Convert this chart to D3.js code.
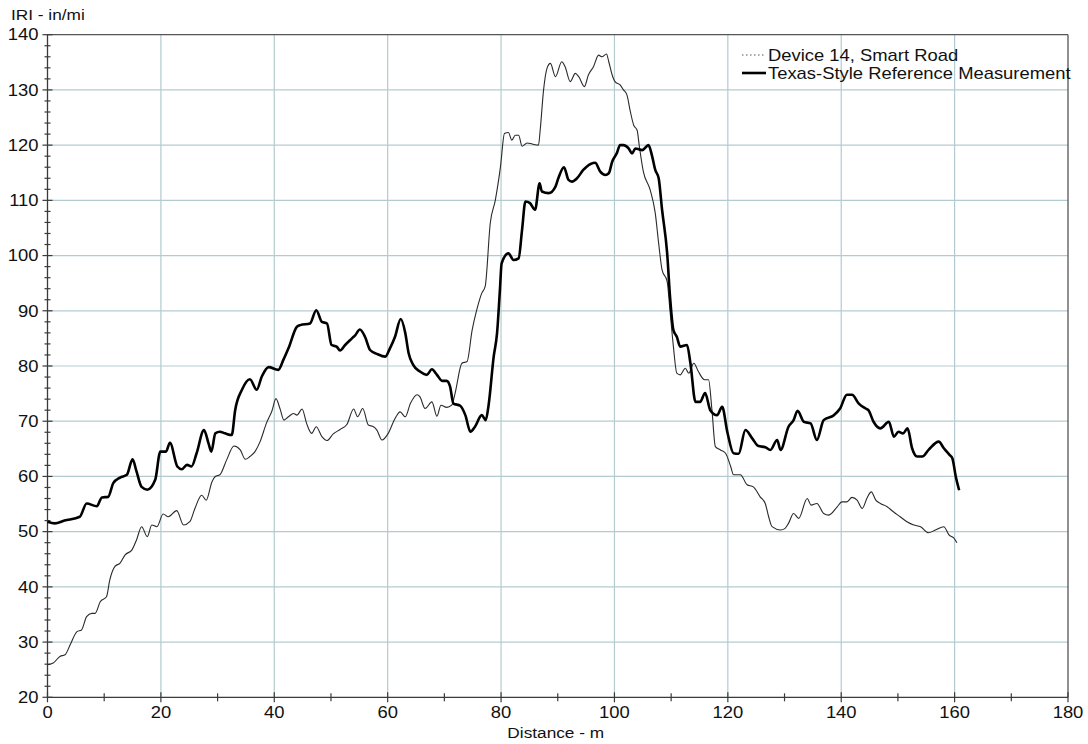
<!DOCTYPE html>
<html>
<head>
<meta charset="utf-8">
<script src="https://cdn.jsdelivr.net/npm/d3@7"></script>
<style>
  html, body { margin: 0; padding: 0; background: #fff; }
  svg { display: block; font-family: Arial, "Liberation Sans", sans-serif; }
</style>
</head>
<body>
<svg id="chart" width="1088" height="744"></svg>
<script>
// Axis tick values
const xTicks = [0, 20, 40, 60, 80, 100, 120, 140, 160, 180];
const yTicks = [20, 30, 40, 50, 60, 70, 80, 90, 100, 110, 120, 130, 140];

// Series names
const seriesNames = ["Device 14, Smart Road", "Texas-Style Reference Measurement"];

// Device 14 profile: distance (m) and IRI (in/mi)
const devDist = [0, 1, 2.2, 3.1, 4, 5.2, 6, 6.9, 7.8, 8.4, 9.3, 10.4, 11, 11.9, 12.8, 13.7, 14.9, 15.7, 16.6, 17.6,
  18.4, 19.3, 20.4, 21.3, 22.8, 24, 25.1, 26, 27.2, 28, 29, 29.6, 30.4, 31.6, 32.9, 34, 34.9, 35.7, 36.6, 37.5,
  38.6, 39.6, 40.3, 41, 41.7, 42.5, 43.4, 44, 44.9, 45.7, 46.6, 47.4, 48.4, 49.3, 50.4, 51.6, 52.8, 54, 54.7, 55.6,
  56.6, 57.5, 58.1, 59, 60.1, 61.3, 62.2, 63.1, 64, 65.2, 65.7, 66.6, 67.8, 68.7, 69.4, 70.4, 71.3, 71.9, 73.1, 74,
  74.9, 75.7, 76.6, 77.2, 78.1, 79, 79.9, 80.6, 81.3, 81.9, 82.5, 83.1, 83.7, 84.6, 85.5, 86.6, 86.9, 87.5, 88.1, 88.7,
  89.6, 90.7, 91.3, 92.2, 93.1, 93.7, 94.7, 95.4, 96.3, 97.2, 97.8, 98.6, 99, 99.6, 100.1, 101, 101.6, 102.2, 102.8, 103.4,
  104, 104.4, 105.1, 106.3, 107.2, 107.8, 108.4, 109.3, 109.8, 110.4, 111, 111.6, 112.5, 113.1, 114, 114.8, 115.9, 116.6, 117.2, 117.8,
  118.7, 119.6, 120.5, 121, 122.2, 123.4, 124.5, 125.7, 126.6, 127.2, 127.8, 129.3, 130.1, 130.7, 131.6, 132.5, 134, 134.7, 135.7, 136.9,
  137.8, 139.3, 140.1, 141, 141.9, 142.8, 143.7, 144.6, 145.3, 146.1, 146.9, 148.1, 149.2, 150.4, 151.6, 152.8, 154, 155.4, 156.6, 158.1,
  159, 159.9, 160.4];
const devIRI = [25.9, 26.2, 27.4, 27.7, 29.5, 31.9, 32.2, 34.6, 35.2, 35.2, 37.3, 38.2, 41.3, 43.7, 44.3, 45.8, 46.7, 48.5, 50.9, 49.1,
  51.2, 50.9, 53.2, 52.7, 53.8, 51.2, 51.8, 54.2, 56.6, 55.7, 59, 60, 60.3, 63, 65.5, 64.8, 63.1, 63.6, 64.5, 66.3,
  69.6, 71.9, 74.1, 72.3, 70.2, 70.8, 71.4, 71.1, 72.2, 69.6, 67.8, 69, 67.2, 66.5, 67.7, 68.5, 69.4, 72.2, 70.8, 72.3,
  69.3, 69, 68.4, 66.6, 67.8, 70.5, 71.7, 70.8, 73.2, 74.8, 74.4, 72.3, 73.5, 70.9, 72.9, 72.5, 72.9, 75.1, 80.5, 80.8,
  86.5, 90.1, 93.2, 94.4, 105.9, 110.1, 116.1, 122.1, 122.3, 120.9, 121.8, 121.8, 119.8, 120.4, 120.2, 120, 122.7, 130, 133.9, 134.8,
  132.4, 135.1, 134.2, 131.5, 133, 132.4, 130.6, 132.7, 134.2, 136.3, 136, 136.5, 135.1, 132.7, 131.5, 130.9, 130, 129.1, 126.1, 123.6,
  122.7, 119.7, 115.2, 111.9, 107.7, 102.2, 97.4, 95.3, 90, 83.5, 78.7, 78.4, 79.6, 78.7, 80.5, 79, 77.5, 77.5, 72, 65.4,
  64.8, 64.2, 61.8, 60.3, 60.3, 58.5, 58.1, 56.3, 55.1, 52.7, 50.9, 50.3, 50.6, 51.5, 53.3, 52.4, 56, 54.8, 55.1, 53.3,
  53, 54.5, 55.4, 55.4, 56.2, 55.7, 54.2, 56.2, 57.2, 55.7, 55.1, 54.5, 53.6, 52.7, 51.8, 51.2, 50.9, 49.8, 50.3, 50.9,
  49.4, 48.8, 48];

// Texas-style reference profile: distance (m) and IRI (in/mi)
const refDist = [0, 1.3, 3, 5.7, 6.9, 8.7, 9.6, 10.7, 11.6, 12.8, 14, 15, 15.7, 16.6, 17.6, 19, 19.9, 20.9, 21.6, 22.9,
  23.7, 24.6, 25.4, 26.3, 27.6, 28.4, 28.9, 29.6, 30.4, 31.3, 32.5, 33.1, 34.3, 35.7, 36.9, 37.8, 39, 40.7, 41.6, 42.5,
  44, 44.6, 46.3, 47.4, 48.4, 49.3, 50.1, 51, 51.6, 52.5, 53.7, 54.3, 55.1, 56, 56.9, 58.1, 59.6, 60.4, 61.3, 62.3,
  63.1, 63.7, 64.5, 65.7, 66.9, 67.8, 68.7, 69.6, 70.4, 71, 71.6, 72.8, 73.7, 74.6, 75.4, 76.6, 77.3, 77.8, 78.7, 79.3,
  79.8, 80.1, 81.3, 82.2, 83.1, 83.7, 84.3, 85.1, 86, 86.8, 87.2, 88.4, 89.6, 90.1, 91.1, 91.9, 92.5, 93.4, 94.5, 95.1,
  96.6, 97.5, 98.4, 99, 99.6, 100.4, 101, 101.6, 102.5, 103.1, 103.7, 104.9, 106, 106.6, 107.2, 107.8, 108.4, 109.3, 109.8, 110.4,
  111, 111.6, 112.8, 113.4, 114.3, 115.1, 116, 116.9, 118.1, 119, 119.9, 121, 121.9, 123.1, 124.3, 125.4, 126.6, 127.5, 128.7, 129.3,
  130.7, 131.6, 132.3, 133.4, 134.6, 135.7, 136.9, 138.7, 139.8, 141, 141.9, 143.1, 144.3, 144.8, 145.7, 146.9, 148.4, 149.3, 150.1, 150.9,
  151.7, 152.5, 153.4, 154.3, 155.4, 157.2, 158.1, 159.1, 159.6, 160.2, 160.8];
const refIRI = [51.8, 51.5, 52, 52.7, 55.1, 54.6, 56.2, 56.3, 58.8, 59.8, 60.3, 63.1, 60.9, 58.1, 57.6, 59.4, 64.5, 64.5, 66.1, 61.8,
  61.3, 62.1, 61.8, 64.2, 68.4, 66, 64.5, 67.8, 68.1, 67.8, 67.5, 72, 75.7, 77.6, 75.7, 78.1, 79.8, 79.3, 81.1, 83.2,
  87.1, 87.4, 87.7, 90.1, 88, 87.7, 83.8, 83.5, 82.8, 83.8, 85, 85.6, 86.6, 85.3, 82.9, 82.2, 81.7, 83.2, 85.3, 88.5,
  86, 82.3, 80.2, 79, 78.4, 79.4, 78.4, 77.3, 77.3, 76.3, 73.2, 72.8, 71.1, 68.1, 69, 71.1, 70.2, 72.9, 81.7, 86,
  93.8, 98.6, 100.4, 99.2, 99.5, 104.6, 109.8, 109.5, 108.3, 113.1, 111.6, 111.3, 112.5, 114, 116, 113.7, 113.4, 114, 115.5, 116.1,
  116.8, 115.2, 114.6, 114.9, 117, 118.5, 120, 120, 119.4, 118.5, 119.4, 119.1, 120, 118.2, 115.5, 114, 108.3, 100.4, 92.6, 86.5,
  85.3, 83.5, 83.8, 80.5, 73.5, 73.5, 75.1, 72, 71.1, 72.6, 68.1, 64.2, 64.1, 68.4, 66.9, 65.5, 65.3, 64.8, 66.6, 64.8,
  69, 70.2, 71.9, 69.9, 69.6, 66.6, 70.2, 71.1, 72.3, 74.8, 74.8, 73.2, 72.3, 72, 69.9, 68.7, 69.9, 67.2, 68.1, 67.8,
  68.7, 65.1, 63.6, 63.6, 64.8, 66.3, 65.1, 63.9, 63.3, 60, 57.5];

const svg = d3.select("#chart");
const margin = { left: 47.5, right: 1088 - 1068, top: 34.7, bottom: 744 - 697.3 };
const W = 1088, H = 744;

const x = d3.scaleLinear().domain([0, 180]).range([margin.left, W - margin.right]);
const y = d3.scaleLinear().domain([20, 140]).range([H - margin.bottom, margin.top]);

const gridColor = "#b3cbd0";
const axisColor = "#3a3a3a";
const textColor = "#111";
const stretch = 1.15; // labels are drawn slightly wide

// Places a text element at (px, py), widened horizontally around its anchor
function label(sel, px, py, size, anchor, str, dy) {
  return sel.append("text")
    .attr("transform", `translate(${px},${py}) scale(${stretch},1)`)
    .attr("text-anchor", anchor || "start")
    .attr("dy", dy || 0)
    .attr("font-size", size).attr("fill", textColor)
    .text(str);
}

// Grid lines
const grid = svg.append("g");
grid.selectAll("line.gx").data(xTicks.slice(1, -1)).join("line")
  .attr("x1", d => x(d)).attr("x2", d => x(d))
  .attr("y1", y(20)).attr("y2", y(140))
  .attr("stroke", gridColor).attr("stroke-width", 1.2);
grid.selectAll("line.gy").data(yTicks.slice(1, -1)).join("line")
  .attr("x1", x(0)).attr("x2", x(180))
  .attr("y1", d => y(d)).attr("y2", d => y(d))
  .attr("stroke", gridColor).attr("stroke-width", 1.2);

// Frame (top and right)
svg.append("line").attr("x1", x(0)).attr("x2", x(180)).attr("y1", y(140)).attr("y2", y(140))
  .attr("stroke", "#555").attr("stroke-width", 1.3);
svg.append("line").attr("x1", x(180)).attr("x2", x(180)).attr("y1", y(140)).attr("y2", y(20))
  .attr("stroke", "#555").attr("stroke-width", 1.3);

// Y axis with minor ticks every 2
const yMinor = d3.range(20, 141, 2).filter(v => v % 10 !== 0);
const yAxis = svg.append("g");
yAxis.append("line").attr("x1", x(0)).attr("x2", x(0)).attr("y1", y(20)).attr("y2", y(140))
  .attr("stroke", axisColor).attr("stroke-width", 1.3);
yAxis.selectAll("line.minor").data(yMinor).join("line")
  .attr("x1", x(0) - 3).attr("x2", x(0) + 3)
  .attr("y1", d => y(d)).attr("y2", d => y(d))
  .attr("stroke", axisColor).attr("stroke-width", 1.2);
yAxis.selectAll("line.major").data(yTicks).join("line")
  .attr("x1", x(0) - 5).attr("x2", x(0) + 5)
  .attr("y1", d => y(d)).attr("y2", d => y(d))
  .attr("stroke", axisColor).attr("stroke-width", 1.2);
yTicks.forEach(t => label(yAxis, x(0) - 9, y(t), 16, "end", t, "0.36em"));

// X axis with minor ticks every 10
const xMinor = d3.range(10, 180, 20);
const xAxis = svg.append("g");
xAxis.append("line").attr("x1", x(0)).attr("x2", x(180)).attr("y1", y(20)).attr("y2", y(20))
  .attr("stroke", axisColor).attr("stroke-width", 1.3);
xAxis.selectAll("line.minor").data(xMinor).join("line")
  .attr("x1", d => x(d)).attr("x2", d => x(d))
  .attr("y1", y(20) - 4).attr("y2", y(20) + 4)
  .attr("stroke", axisColor).attr("stroke-width", 1.2);
xAxis.selectAll("line.major").data(xTicks).join("line")
  .attr("x1", d => x(d)).attr("x2", d => x(d))
  .attr("y1", y(20) - 5).attr("y2", y(20) + 5)
  .attr("stroke", axisColor).attr("stroke-width", 1.2);
xTicks.forEach(t => label(xAxis, x(t), y(20) + 21, 16, "middle", t));

// Axis titles
label(svg, 11, 20, 15, "start", "IRI - in/mi");
label(svg, (x(0) + x(180)) / 2 - 2, 738, 15, "middle", "Distance - m");

// Lines
const line = d3.line().x(d => x(d[0])).y(d => y(d[1])).curve(d3.curveMonotoneX);
const devData = devDist.map((d, i) => [d, devIRI[i]]);
const refData = refDist.map((d, i) => [d, refIRI[i]]);

svg.append("path").datum(devData).attr("d", line)
  .attr("fill", "none").attr("stroke", "#2a2a2a").attr("stroke-width", 1.1);
svg.append("path").datum(refData).attr("d", line)
  .attr("fill", "none").attr("stroke", "#000").attr("stroke-width", 2.6).attr("stroke-linejoin", "round");

// Legend
const legend = svg.append("g");
const lx = 742, ly1 = 55, ly2 = 73;
legend.append("line").attr("x1", lx).attr("x2", lx + 24).attr("y1", ly1).attr("y2", ly1)
  .attr("stroke", "#555").attr("stroke-width", 1).attr("stroke-dasharray", "1.5,2.5");
legend.append("line").attr("x1", lx).attr("x2", lx + 24).attr("y1", ly2).attr("y2", ly2)
  .attr("stroke", "#000").attr("stroke-width", 2.6);
label(legend, lx + 26, ly1, 16, "start", seriesNames[0], "0.36em");
label(legend, lx + 26, ly2, 16, "start", seriesNames[1], "0.36em");
</script>
</body>
</html>
